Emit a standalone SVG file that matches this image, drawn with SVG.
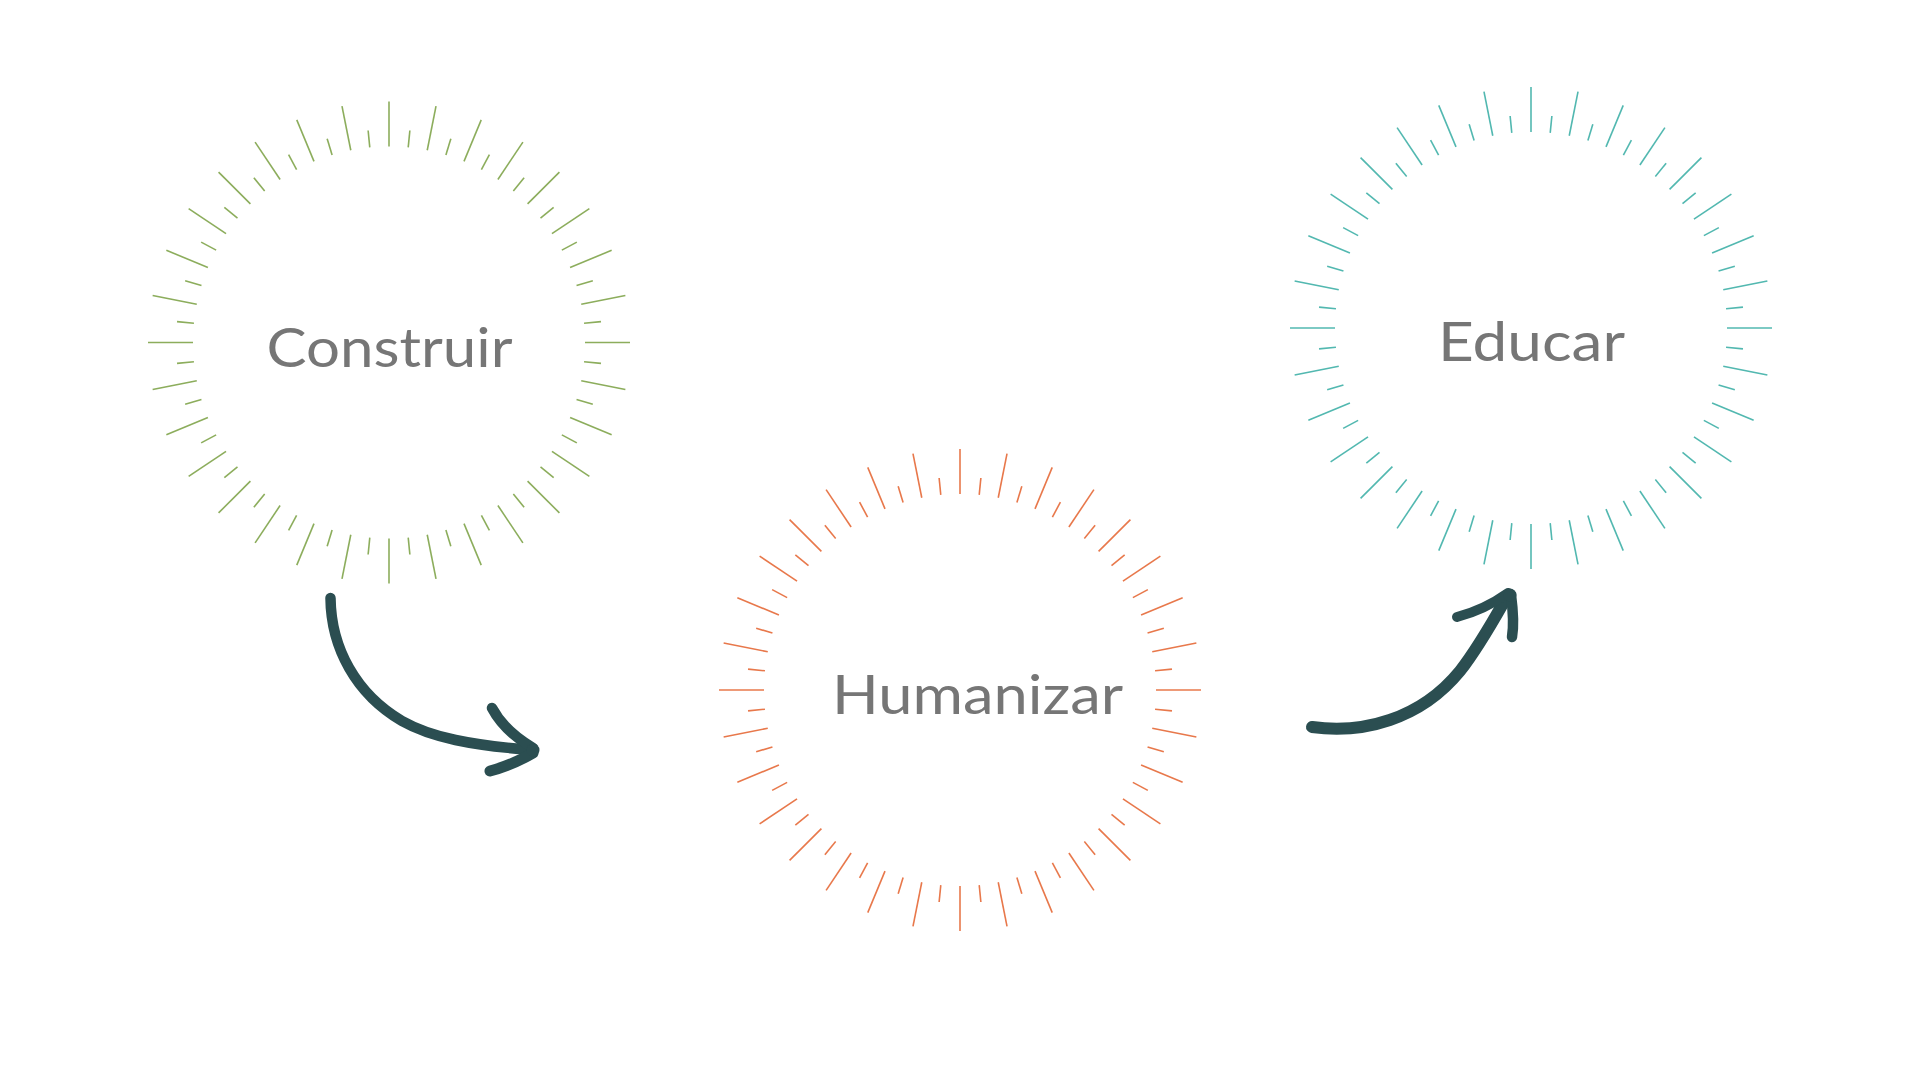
<svg xmlns="http://www.w3.org/2000/svg" xmlns:xlink="http://www.w3.org/1999/xlink" width="1920" height="1080" viewBox="0 0 1920 1080">
  <style>
    .ray line { stroke-width: 1.6; stroke-linecap: butt; fill: none; }
    .label { font-family: "Lato", "Liberation Sans", sans-serif; font-size: 54px; fill: #767676; text-anchor: middle; }
    .arrow { fill: none; stroke: #2B4E51; stroke-linecap: round; stroke-linejoin: round; }
  </style>
  <defs>
    <!-- one long ray plus the short ray half a step further round -->
    <g id="ray" class="ray">
      <line x1="0" y1="-241" x2="0" y2="-196"/>
      <line x1="0" y1="-213" x2="0" y2="-196" transform="rotate(5.625)"/>
    </g>
    <!-- 32 steps of 11.25 degrees make the full sunburst -->
    <g id="burst">
      <use xlink:href="#ray" transform="rotate(0)"/>
      <use xlink:href="#ray" transform="rotate(11.25)"/>
      <use xlink:href="#ray" transform="rotate(22.5)"/>
      <use xlink:href="#ray" transform="rotate(33.75)"/>
      <use xlink:href="#ray" transform="rotate(45)"/>
      <use xlink:href="#ray" transform="rotate(56.25)"/>
      <use xlink:href="#ray" transform="rotate(67.5)"/>
      <use xlink:href="#ray" transform="rotate(78.75)"/>
      <use xlink:href="#ray" transform="rotate(90)"/>
      <use xlink:href="#ray" transform="rotate(101.25)"/>
      <use xlink:href="#ray" transform="rotate(112.5)"/>
      <use xlink:href="#ray" transform="rotate(123.75)"/>
      <use xlink:href="#ray" transform="rotate(135)"/>
      <use xlink:href="#ray" transform="rotate(146.25)"/>
      <use xlink:href="#ray" transform="rotate(157.5)"/>
      <use xlink:href="#ray" transform="rotate(168.75)"/>
      <use xlink:href="#ray" transform="rotate(180)"/>
      <use xlink:href="#ray" transform="rotate(191.25)"/>
      <use xlink:href="#ray" transform="rotate(202.5)"/>
      <use xlink:href="#ray" transform="rotate(213.75)"/>
      <use xlink:href="#ray" transform="rotate(225)"/>
      <use xlink:href="#ray" transform="rotate(236.25)"/>
      <use xlink:href="#ray" transform="rotate(247.5)"/>
      <use xlink:href="#ray" transform="rotate(258.75)"/>
      <use xlink:href="#ray" transform="rotate(270)"/>
      <use xlink:href="#ray" transform="rotate(281.25)"/>
      <use xlink:href="#ray" transform="rotate(292.5)"/>
      <use xlink:href="#ray" transform="rotate(303.75)"/>
      <use xlink:href="#ray" transform="rotate(315)"/>
      <use xlink:href="#ray" transform="rotate(326.25)"/>
      <use xlink:href="#ray" transform="rotate(337.5)"/>
      <use xlink:href="#ray" transform="rotate(348.75)"/>
    </g>
  </defs>

  <rect width="1920" height="1080" fill="#FFFFFF"/>

  <g id="node-construir">
    <use xlink:href="#burst" transform="translate(389,342.5)" stroke="#8CAD5C"/>
    <text class="label" x="389.5" y="366.5" textLength="246" lengthAdjust="spacingAndGlyphs">Construir</text>
  </g>

  <g id="node-humanizar">
    <use xlink:href="#burst" transform="translate(960,690)" stroke="#E8784B"/>
    <text class="label" x="977.5" y="713.5" textLength="291" lengthAdjust="spacingAndGlyphs">Humanizar</text>
  </g>

  <g id="node-educar">
    <use xlink:href="#burst" transform="translate(1531,328)" stroke="#52B8B0"/>
    <text class="label" x="1531.5" y="361" textLength="187" lengthAdjust="spacingAndGlyphs">Educar</text>
  </g>

  <g id="connectors">
    <!-- Construir to Humanizar: brush stroke sweeping down and right -->
    <g id="arrow-1">
      <path class="arrow" stroke-width="10.5" d="M330.5,598 C331,648 356,694 402,721 C432,738 472,745 530,750"/>
      <path class="arrow" stroke-width="10.5" stroke-linecap="butt" d="M492,708 C501,725 516,738 533,748"/>
      <path class="arrow" stroke-width="11" d="M490,771 C505,767 521,760 533,753"/>
      <circle cx="533" cy="750" r="6.5" fill="#2B4E51"/>
    </g>
    <!-- Humanizar to Educar: brush stroke rising up and right -->
    <g id="arrow-2">
      <path class="arrow" stroke-width="12" stroke-linecap="butt" d="M1312,727 C1362,734 1420,720 1460,671 C1478,648 1492,623 1505,600"/>
      <path class="arrow" stroke-width="10" d="M1457,617 C1476,612 1494,603 1508,593"/>
      <path class="arrow" stroke-width="10.5" d="M1511,595 C1513,610 1514,625 1512,637"/>
      <circle cx="1510" cy="595" r="6.5" fill="#2B4E51"/>
    </g>
  </g>
</svg>
